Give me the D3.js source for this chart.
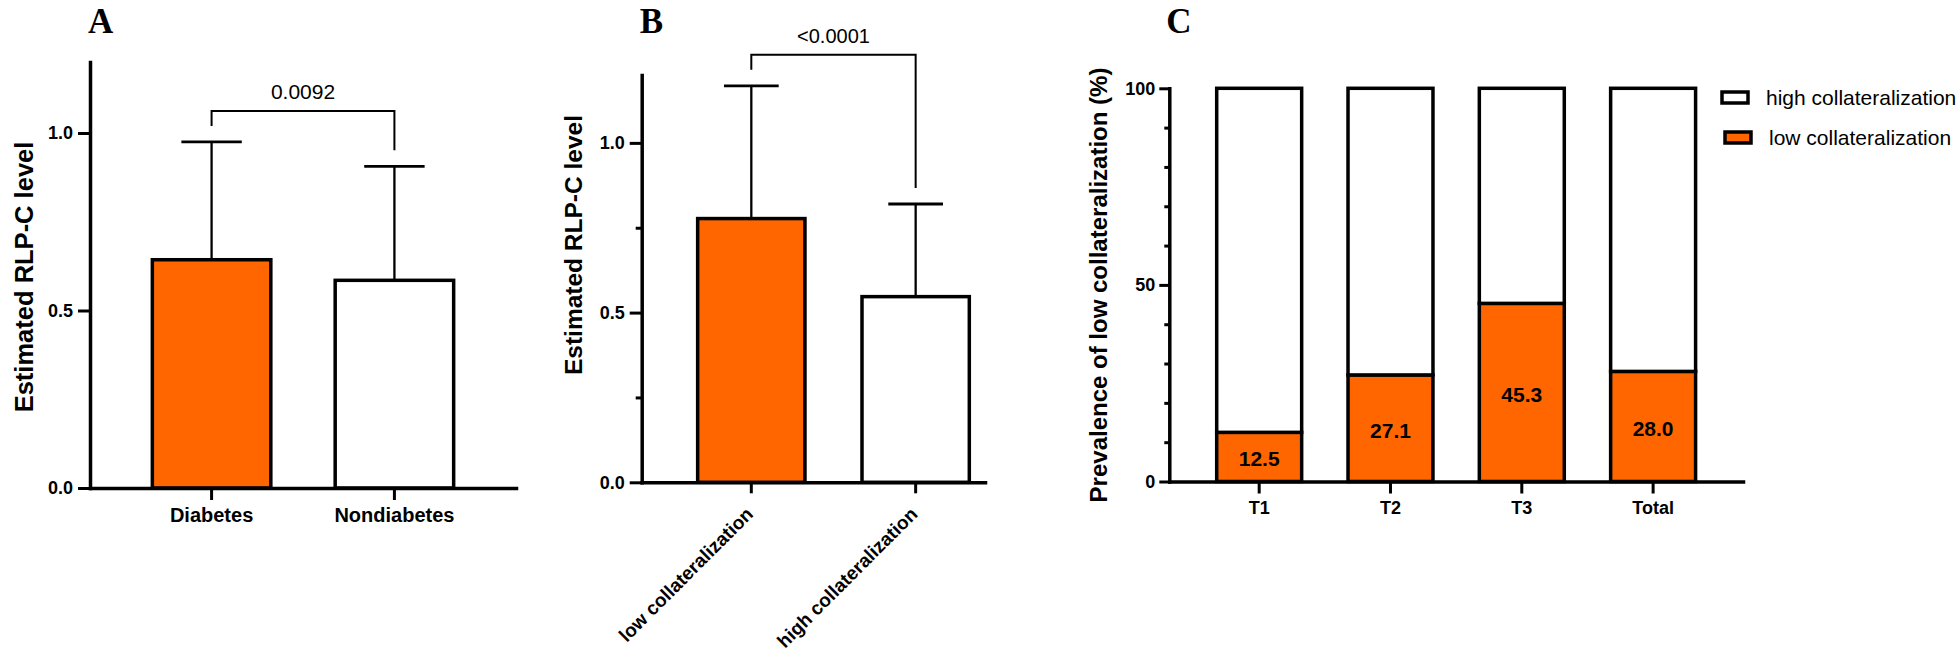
<!DOCTYPE html>
<html>
<head>
<meta charset="utf-8">
<script src="https://cdn.jsdelivr.net/npm/d3@7"></script>
<style>
  html, body { margin: 0; padding: 0; background: #fff; }
  svg text { font-family: "Liberation Sans", Arial, sans-serif; fill: #000; }
</style>
</head>
<body>
<svg id="chart" width="1960" height="654"></svg>
<script>
// Panel A: diabetes vs nondiabetes
const groupsA = ["Diabetes", "Nondiabetes"];
const meansA = [0.643, 0.585];
const errA = [0.332, 0.321];
const pValueA = "0.0092";

// Panel B: low vs high collateralization
const groupsB = ["low collateralization", "high collateralization"];
const meansB = [0.777, 0.547];
const errB = [0.391, 0.273];
const pValueB = "<0.0001";

// Shared y ticks for A and B
const yTicksAB = [0, 0.5, 1.0];
const yMinorB = [0.25, 0.75];

// Panel C: prevalence of low collateralization by tertile
const tertiles = ["T1", "T2", "T3", "Total"];
const lowPct = [12.5, 27.1, 45.3, 28.0];
const highPct = [87.5, 72.9, 54.7, 72.0];
const yTicksC = [0, 50, 100];
const yMinorC = [10, 20, 30, 40, 60, 70, 80, 90];
const legendLabels = ["high collateralization", "low collateralization"];

const ORANGE = "#ff6600";
const svg = d3.select("#chart");

function styleAxis(sel, fontSize) {
    sel.select(".domain")
        .attr("stroke", "#000")
        .attr("stroke-width", 3.5)
        .attr("stroke-linecap", "square");
    sel.selectAll(".tick line")
        .attr("stroke", "#000")
        .attr("stroke-width", 3);
    sel.selectAll(".tick text")
        .attr("fill", "#000")
        .style("font-size", fontSize + "px")
        .style("font-weight", "bold");
}

function barPanel(o) {
    const g = svg.append("g");

    const y = d3.scaleLinear().domain([0, 1.2]).range([o.yBottom, o.yTop]);
    const x = d3.scaleBand()
        .domain(o.groups)
        .range([o.xLeft, o.xRight])
        .paddingInner(o.padInner)
        .paddingOuter(o.padOuter)
        .align(o.align);

    const cx = d => x(d) + x.bandwidth() / 2;
    const capW = x.bandwidth() * 0.51;

    // error bar stems
    g.selectAll(".stem")
        .data(o.groups)
        .join("line")
        .attr("class", "stem")
        .attr("x1", cx).attr("x2", cx)
        .attr("y1", (d, i) => y(o.means[i]))
        .attr("y2", (d, i) => y(o.means[i] + o.err[i]))
        .attr("stroke", "#000")
        .attr("stroke-width", 2.3);

    // caps
    g.selectAll(".cap")
        .data(o.groups)
        .join("line")
        .attr("class", "cap")
        .attr("x1", d => cx(d) - capW / 2)
        .attr("x2", d => cx(d) + capW / 2)
        .attr("y1", (d, i) => y(o.means[i] + o.err[i]))
        .attr("y2", (d, i) => y(o.means[i] + o.err[i]))
        .attr("stroke", "#000")
        .attr("stroke-width", 2.8);

    // bars
    g.selectAll(".bar")
        .data(o.groups)
        .join("rect")
        .attr("class", "bar")
        .attr("x", d => x(d))
        .attr("width", x.bandwidth())
        .attr("y", (d, i) => y(o.means[i]))
        .attr("height", (d, i) => y(0) - y(o.means[i]))
        .attr("fill", (d, i) => i === 0 ? ORANGE : "#fff")
        .attr("stroke", "#000")
        .attr("stroke-width", 3.5);

    // significance bracket
    const tops = o.groups.map((d, i) => y(o.means[i] + o.err[i]));
    const bracketY = d3.min(tops) - 31;
    const p = d3.path();
    p.moveTo(cx(o.groups[0]), tops[0] - 16);
    p.lineTo(cx(o.groups[0]), bracketY);
    p.lineTo(cx(o.groups[1]), bracketY);
    p.lineTo(cx(o.groups[1]), tops[1] - 16);
    g.append("path")
        .attr("d", p.toString())
        .attr("fill", "none")
        .attr("stroke", "#000")
        .attr("stroke-width", 2);

    g.append("text")
        .attr("x", (cx(o.groups[0]) + cx(o.groups[1])) / 2)
        .attr("y", bracketY - 12)
        .attr("text-anchor", "middle")
        .style("font-size", o.pSize + "px")
        .text(o.pValue);

    // y axis
    const yAxis = g.append("g")
        .attr("transform", `translate(${o.xLeft},0)`)
        .call(d3.axisLeft(y).tickValues(yTicksAB).tickFormat(d3.format(".1f"))
            .tickSize(12).tickPadding(5).tickSizeOuter(0));
    styleAxis(yAxis, 18);

    if (o.minor) {
        const m = g.append("g")
            .attr("transform", `translate(${o.xLeft},0)`)
            .call(d3.axisLeft(y).tickValues(o.minor).tickFormat("").tickSize(6).tickSizeOuter(0));
        m.select(".domain").remove();
        m.selectAll(".tick line").attr("stroke", "#000").attr("stroke-width", 3);
    }

    // x axis
    const xAxis = g.append("g")
        .attr("transform", `translate(0,${o.yBottom})`)
        .call(d3.axisBottom(x).tickSize(o.xTick).tickPadding(8).tickSizeOuter(0));
    styleAxis(xAxis, o.xFont);

    if (o.rotate) {
        xAxis.selectAll(".tick text")
            .attr("x", 0).attr("y", 0).attr("dy", 0)
            .attr("text-anchor", "end")
            .attr("transform", "translate(3,33) rotate(-45)");
    }

    // y title
    g.append("text")
        .attr("transform", `translate(${o.titleX},${o.titleY}) rotate(-90)`)
        .attr("text-anchor", "middle")
        .style("font-size", o.titleSize + "px")
        .style("font-weight", "bold")
        .text("Estimated RLP-C level");

    // panel letter
    g.append("text")
        .attr("x", o.xLeft - 2)
        .attr("y", 33)
        .style("font-family", "'Liberation Serif', 'Times New Roman', serif")
        .style("font-size", "35px")
        .style("font-weight", "bold")
        .text(o.letter);
}

barPanel({
    letter: "A", groups: groupsA, means: meansA, err: errA, pValue: pValueA, pSize: 21,
    xLeft: 90, xRight: 516, yBottom: 488, yTop: 62,
    padInner: 0.352, padOuter: 0.341, align: 0.5,
    xTick: 12, xFont: 20, rotate: false,
    titleX: 32.5, titleY: 277, titleSize: 25.5
});

barPanel({
    letter: "B", groups: groupsB, means: meansB, err: errB, pValue: pValueB, pSize: 20,
    xLeft: 641.7, xRight: 985, yBottom: 482.3, yTop: 75,
    padInner: 0.347, padOuter: 0.218, align: 0.781,
    xTick: 11, xFont: 19, rotate: true, minor: yMinorB,
    titleX: 581.5, titleY: 245, titleSize: 24.5
});

// Panel C: stacked percentage bars
(function () {
    const g = svg.append("g");
    const xLeft = 1169.3, xRight = 1743, yBottom = 481.5, yTop = 88.3;

    const y = d3.scaleLinear().domain([0, 100]).range([yBottom, yTop]);
    const x = d3.scaleBand()
        .domain(tertiles)
        .range([xLeft, xRight])
        .paddingInner(0.353)
        .paddingOuter(0.361);

    const rows = tertiles.map((t, i) => ({ group: t, low: lowPct[i], high: highPct[i] }));
    const series = d3.stack().keys(["low", "high"])(rows);
    const fills = { low: ORANGE, high: "#fff" };

    g.selectAll(".series")
        .data(series)
        .join("g")
        .attr("class", "series")
        .attr("fill", s => fills[s.key])
        .selectAll("rect")
        .data(s => s)
        .join("rect")
        .attr("x", d => x(d.data.group))
        .attr("width", x.bandwidth())
        .attr("y", d => y(d[1]))
        .attr("height", d => y(d[0]) - y(d[1]))
        .attr("stroke", "#000")
        .attr("stroke-width", 3.5);

    // value labels in the orange segment
    g.selectAll(".val")
        .data(rows)
        .join("text")
        .attr("class", "val")
        .attr("x", d => x(d.group) + x.bandwidth() / 2)
        .attr("y", d => y(d.low / 2) + 2)
        .attr("text-anchor", "middle")
        .attr("dominant-baseline", "central")
        .style("font-size", "21px")
        .style("font-weight", "bold")
        .text(d => d3.format(".1f")(d.low));

    const yAxis = g.append("g")
        .attr("transform", `translate(${xLeft},0)`)
        .call(d3.axisLeft(y).tickValues(yTicksC).tickFormat(d3.format("d"))
            .tickSize(10).tickPadding(4).tickSizeOuter(0));
    styleAxis(yAxis, 18);

    const m = g.append("g")
        .attr("transform", `translate(${xLeft},0)`)
        .call(d3.axisLeft(y).tickValues(yMinorC).tickFormat("").tickSize(5).tickSizeOuter(0));
    m.select(".domain").remove();
    m.selectAll(".tick line").attr("stroke", "#000").attr("stroke-width", 3);

    const xAxis = g.append("g")
        .attr("transform", `translate(0,${yBottom})`)
        .call(d3.axisBottom(x).tickSize(12).tickPadding(8).tickSizeOuter(0));
    styleAxis(xAxis, 18);

    g.append("text")
        .attr("transform", `translate(1106.5,285) rotate(-90)`)
        .attr("text-anchor", "middle")
        .style("font-size", "24px")
        .style("font-weight", "bold")
        .text("Prevalence of low collateralization (%)");

    g.append("text")
        .attr("x", xLeft - 3)
        .attr("y", 33)
        .style("font-family", "'Liberation Serif', 'Times New Roman', serif")
        .style("font-size", "35px")
        .style("font-weight", "bold")
        .text("C");

    // legend
    const legendFill = [fills.high, fills.low];
    const leg = g.selectAll(".leg")
        .data(legendLabels)
        .join("g")
        .attr("class", "leg")
        .attr("transform", (d, i) => `translate(${1722 + i * 3},${97.5 + i * 40})`);
    leg.append("rect")
        .attr("x", 0).attr("y", -5.5)
        .attr("width", 26).attr("height", 11)
        .attr("fill", (d, i) => legendFill[i])
        .attr("stroke", "#000")
        .attr("stroke-width", 3.5);
    leg.append("text")
        .attr("x", 44)
        .attr("y", 0)
        .attr("dominant-baseline", "central")
        .style("font-size", "21px")
        .text(d => d);
})();
</script>
</body>
</html>
